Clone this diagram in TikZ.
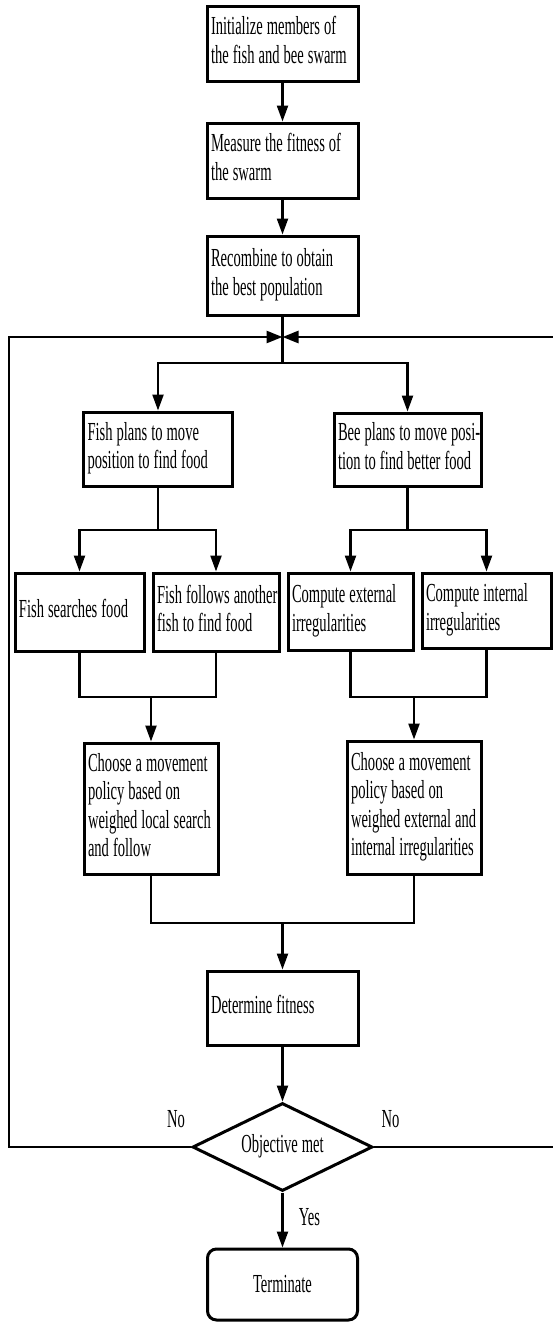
\documentclass[tikz,border=0pt]{standalone}
\usepackage{fontspec}
\setmainfont{Liberation Serif}[FakeStretch=0.56]
\usetikzlibrary{arrows.meta,shapes.geometric}
\newcommand{\mlines}[1]{{\spaceskip=4pt plus 1pt minus 1pt\relax\begin{tabular}{@{}l@{}}#1\end{tabular}}}
\begin{document}
\begin{tikzpicture}[x=1pt,y=-1pt,
  every node/.style={font=\fontsize{26}{28.5}\selectfont},
  box/.style n args={3}{draw, line width=3pt, align=left, inner xsep=4pt, inner ysep=0pt,
     text width=#1pt, minimum height=#2pt, minimum width=#3pt},
  ln/.style={line width=2.3pt},
  arr/.style={line width=2.3pt, -{Triangle[width=11pt,length=16pt]}},
  looparr/.style={line width=2.6pt, -{Triangle[width=12pt,length=16pt]}},
  lbl/.style={inner sep=0pt},
]
\useasboundingbox (0,0) rectangle (553,1323);

% main column
\node[box={143}{75}{151}] (b1) at (282.5,43.5) {\mlines{Initialize members of\\the fish and bee swarm}};
\node[box={143}{75}{151}] (b2) at (282.5,160.5) {\mlines{Measure the fitness of\\the swarm}};
\node[box={143}{79}{151}] (b3) at (282.5,275.5) {\mlines{Recombine to obtain\\the best population}};

\node[box={141}{74}{149}] (fplan) at (158,449) {\mlines{Fish plans to move\\position to find food}};
\node[box={139}{73}{147}] (bplan) at (407.5,449.5) {\mlines{Bee plans to move posi-\\tion to find better food}};

\node[box={121}{78}{129}] (fA) at (79.5,612) {\mlines{Fish searches food}};
\node[box={118}{78}{126}] (fB) at (216,612) {\mlines{Fish follows another\\fish to find food}};
\node[box={117}{77}{125}] (cE) at (350.5,611.5) {\mlines{Compute external\\irregularities}};
\node[box={121}{75}{129}] (cI) at (486.5,610.5) {\mlines{Compute internal\\irregularities}};

\node[box={126}{131}{134}] (chF) at (151,808.5) {\mlines{Choose a movement\\policy based on\\weighed local search\\and follow}};
\node[box={126}{133}{134}] (chB) at (414,807.5) {\mlines{Choose a movement\\policy based on\\weighed external and\\internal irregularities}};

\node[box={143}{74}{151}] (det) at (282.5,1008) {\mlines{Determine fitness}};

\node[draw, diamond, aspect=2, line width=3pt, inner sep=0pt,
      minimum width=180pt, minimum height=88pt] (dia) at (282.5,1147) {\mlines{Objective met}};

\node[draw, line width=3pt, rounded corners=9pt, minimum width=150pt,
      minimum height=71pt] (term) at (282.5,1284.5) {Terminate};

% labels
\node[lbl] (noL) at (176,1119) {No};
\node[lbl] (noR) at (390.5,1119) {No};
\node[lbl] (yes) at (309.5,1217) {Yes};

% coordinates
\coordinate (jn) at (282.5,337);
\coordinate (sp) at (282.5,363);
\coordinate (lc) at (9,337);
\coordinate (rc) at (556,337);
\coordinate (fs) at (158,530);
\coordinate (bs) at (407.5,530);
\coordinate (fm) at (151,697);
\coordinate (bm) at (414,697);
\coordinate (fin) at (282.5,923);

% connectors
\draw[arr] (b1) -- (b2);
\draw[arr] (b2) -- (b3);
\draw[ln] (b3.south) -- (sp);
\draw[arr] (sp) -| (fplan.north);
\draw[arr] (sp) -| (bplan.north);

\draw[looparr] (dia.west) -| (lc) -- (jn);
\draw[looparr] (dia.east) -| (rc) -- (jn);

\draw[ln] (fplan.south) -- (fs);
\draw[arr] (fs) -| (fA.north);
\draw[arr] (fs) -| (fB.north);
\draw[ln] (bplan.south) -- (bs);
\draw[arr] (bs) -| (cE.north);
\draw[arr] (bs) -| (cI.north);

\draw[ln] (fA.south) |- (fB.south |- fm) -- (fB.south);
\draw[arr] (fm) -- (chF.north);
\draw[ln] (cE.south) |- (cI.south |- bm) -- (cI.south);
\draw[arr] (bm) -- (chB.north);

\draw[ln] (chF.south) |- (chB.south |- fin) -- (chB.south);
\draw[arr] (fin) -- (det.north);
\draw[arr] (det) -- (dia);
\draw[arr] (dia) -- (term);
\end{tikzpicture}
\end{document}
